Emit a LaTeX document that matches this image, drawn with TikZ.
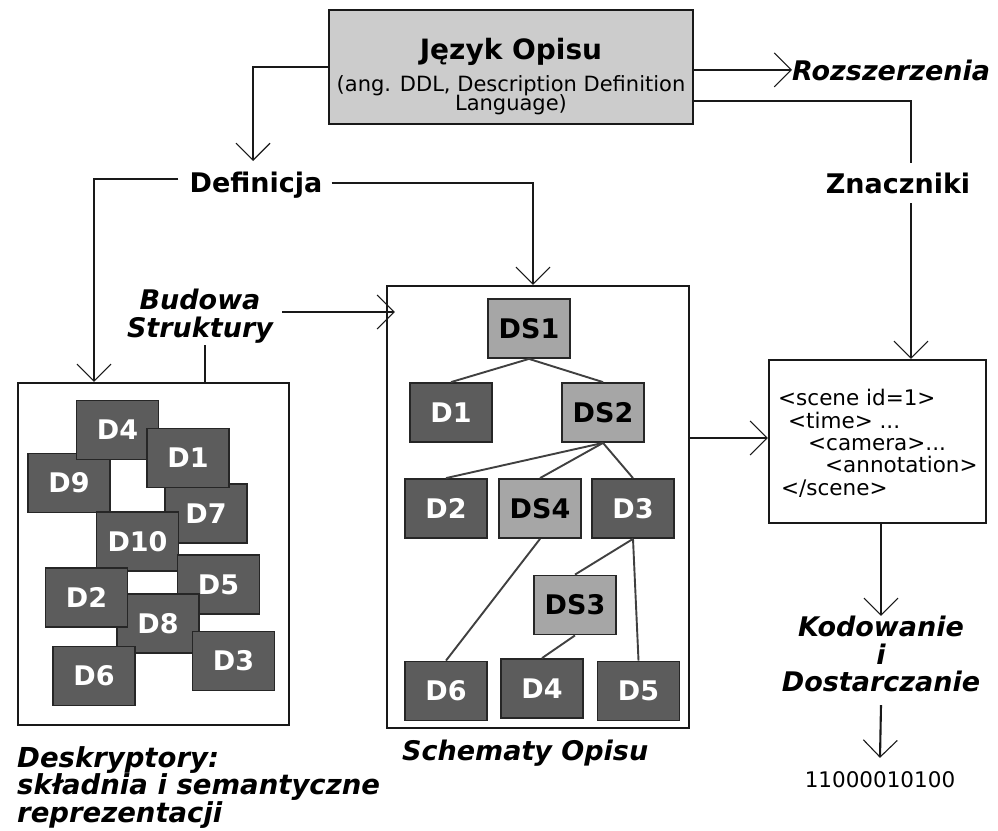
\documentclass[tikz,border=0pt]{standalone}
\usepackage{fontspec}
\setmainfont{DejaVu Sans}
\usetikzlibrary{arrows.meta}
\newcommand\myfs[2]{\fontsize{#1}{#2}\selectfont}
\begin{document}
\begin{tikzpicture}[x=1pt,y=-1pt,
  conn/.style={line width=2.1pt, draw=black!90},
  arr/.style={conn, -{Straight Barb[length=17pt,width=34pt,line width=1.1pt]}},
  box/.style={draw=black!90, line width=2.2pt, fill=white, inner sep=0pt},
  dk/.style={draw=black!85, line width=1.8pt, fill=black!64, text=white,
     font=\bfseries\myfs{27}{30}, minimum width=82pt, minimum height=59pt, inner sep=0pt},
  lt/.style={dk, fill=black!35, text=black},
  lbl/.style={font=\bfseries\myfs{27}{27}, inner sep=0pt},
  ilbl/.style={font=\bfseries\itshape\myfs{27}{27.5}, inner sep=0pt},
  tedge/.style={draw=black!75, line width=1.9pt},
  code/.style={font=\myfs{21.5}{22.5}, inner sep=0pt, anchor=base west}
]
\useasboundingbox (0,0) rectangle (998,830);

% top box
\node[box, fill=black!20, minimum width=364pt, minimum height=114pt] (ddl) at (511,67) {};
\node[font=\bfseries\myfs{28}{30}, inner sep=0pt, anchor=base] (ddlt) at (511,59) {Język Opisu};
\node[font=\myfs{21}{21}, inner sep=0pt, anchor=base] (ddls1) at (511,91) {(ang. DDL, Description Definition};
\node[font=\myfs{21}{21}, inner sep=0pt, anchor=base] (ddls2) at (511,110) {Language)};

% labels
\node[lbl, anchor=base] (def) at (256,192) {Definicja};
\node[ilbl, anchor=base west] (roz) at (792,80) {Rozszerzenia};
\node[lbl, anchor=base] (zn) at (898,193) {Znaczniki};
\node[ilbl, align=center] (bud) at (200,316) {Budowa\\Struktury};
\node[ilbl, align=center] (kod) at (881,654) {Kodowanie\\i\\Dostarczanie};
\node[font=\myfs{21.5}{21}, inner sep=0pt, anchor=base] (bin) at (880,787) {11000010100};
\node[font=\bfseries\itshape\myfs{27.5}{25.5}, inner sep=0pt, align=left, anchor=north west] (desk) at (17,746)
  {Deskryptory:\\składnia i semantyczne\\reprezentacji};
\node[ilbl, anchor=base west] (sch) at (402,760) {Schematy Opisu};

% boxes
\node[box, minimum width=271pt, minimum height=342pt] (lbox) at (153.5,554) {};
\node[box, minimum width=302pt, minimum height=442pt] (mid) at (538,507) {};
\node[box, minimum width=217pt, minimum height=163pt] (scene) at (877.5,441.5) {};

% scene code
\node[code] (c1) at (778,405) {<scene id=1>};
\node[code] (c2) at (788,428) {<time> ...};
\node[code] (c3) at (808,450) {<camera>...};
\node[code] (c4) at (825,472) {<annotation>};
\node[code] (c5) at (781,495) {</scene>};

% left box descriptors
\node[dk] (l9) at (69,483) {D9};
\node[dk] (l4) at (117.5,430) {D4};
\node[dk] (l7) at (206,513.5) {D7};
\node[dk] (l1) at (188,458) {D1};
\node[dk] (l10) at (137.5,541.5) {D10};
\node[dk] (l5) at (218.5,584.5) {D5};
\node[dk] (l8) at (158,623.5) {D8};
\node[dk] (l2) at (86.5,597.5) {D2};
\node[dk] (l6) at (94,676) {D6};
\node[dk] (l3) at (233.5,661) {D3};

% middle tree
\node[lt] (ds1) at (529,328.5) {DS1};
\node[dk] (m1) at (451,412.5) {D1};
\node[lt] (ds2) at (603,412.5) {DS2};
\node[dk] (m2) at (446,508.5) {D2};
\node[lt] (ds4) at (540,508.5) {DS4};
\node[dk] (m3) at (633,508.5) {D3};
\node[lt] (ds3) at (575,605) {DS3};
\node[dk] (m6) at (446,691) {D6};
\node[dk] (m4) at (542,688.5) {D4};
\node[dk] (m5) at (638.5,691) {D5};

\draw[tedge] (ds1.south) -- (m1.north);
\draw[tedge] (ds1.south) -- (ds2.north);
\draw[tedge] (ds2.south) -- (m2.north);
\draw[tedge] (ds2.south) -- (ds4.north);
\draw[tedge] (ds2.south) -- (m3.north);
\draw[tedge] (ds4.south) -- (m6.north);
\draw[tedge] (m3.south) -- (ds3.north);
\draw[tedge] (m3.south) -- (m5.north);
\draw[tedge] (ds3.south) -- (m4.north);

% connectors
\coordinate (defin) at (253,161);
\draw[arr] (ddl.west) -| (defin);
\draw[arr] (ddl.east |- roz.west) -- (roz.west);
\coordinate (zntop) at (911,163);
\coordinate (znbot) at (911,203);
\draw[conn] ([yshift=-34pt]ddl.east) -| (zntop);
\draw[arr] (znbot) -- (znbot |- scene.north);
\draw[arr] ([xshift=9pt,yshift=2pt]def.east) -| ([xshift=-5pt]mid.north);
\draw[arr] ([xshift=-11pt,yshift=6pt]def.west) -| ([xshift=-59.5pt]lbox.north);
\coordinate (budb) at (205,345);
\draw[conn] (budb) -- (budb |- lbox.north);
\draw[arr] ([xshift=9pt,yshift=4pt]bud.east) -- ([xshift=9pt,yshift=4pt]bud.east -| mid.west);
\draw[arr] ([yshift=69pt]mid.east) -- ([yshift=69pt]mid.east -| scene.west);
\draw[arr] (kod.north |- scene.south) -- (kod.north);
\draw[arr] ([yshift=-13pt]kod.south) -- ([yshift=13pt]bin.north);
\end{tikzpicture}
\end{document}
